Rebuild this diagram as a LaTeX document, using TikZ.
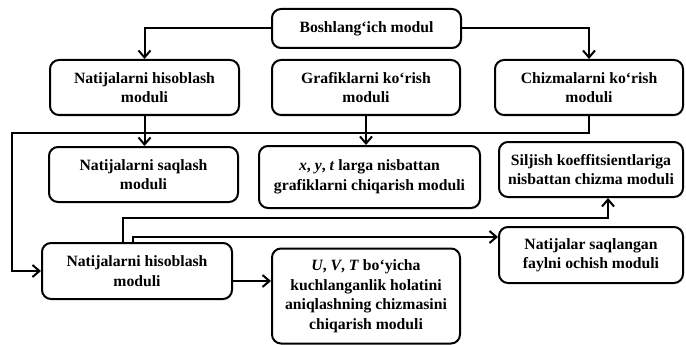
\documentclass[tikz,border=0pt]{standalone}
\usepackage{fontspec}
\setmainfont{Liberation Serif}
\usetikzlibrary{arrows.meta}
\tikzset{
  modbox/.style={draw, line width=2pt, rounded corners=9pt, fill=white, align=center,
    inner sep=2pt, font=\fontsize{15.7}{19.5}\selectfont\bfseries, text=black},
  link/.style={line width=2pt},
  arr/.style={link, -{Straight Barb[length=7pt,width=12pt,line width=2pt]}}
}
\begin{document}
\begin{tikzpicture}[x=1pt,y=-1pt]
\useasboundingbox (0,0) rectangle (686,345);
% row 0
\node[modbox, minimum width=189pt, minimum height=39pt] (boshl) at (366.5,28.5) {Boshlang‘ich modul};
% row 1
\node[modbox, minimum width=189pt, minimum height=55pt] (nhis1) at (144.5,87.5) {Natijalarni hisoblash\\moduli};
\node[modbox, minimum width=188pt, minimum height=55pt] (graf) at (366,87.5) {Grafiklarni ko‘rish\\moduli};
\node[modbox, minimum width=188pt, minimum height=55pt] (chiz) at (589,87.5) {Chizmalarni ko‘rish\\moduli};
% row 2
\node[modbox, minimum width=189pt, minimum height=55pt] (nsaq) at (143.5,174.5) {Natijalarni saqlash\\moduli};
\node[modbox, minimum width=221pt, minimum height=62pt] (xyt) at (369.5,177) {\textit{x}, \textit{y}, \textit{t} larga nisbattan\\grafiklarni chiqarish moduli};
\node[modbox, minimum width=184pt, minimum height=55pt] (silj) at (591,169.5) {Siljish koeffitsientlariga\\nisbattan chizma moduli};
% row 3
\node[modbox, minimum width=190pt, minimum height=56pt] (nhis2) at (137,271) {Natijalarni hisoblash\\moduli};
\node[modbox, minimum width=184pt, minimum height=56pt] (nsql) at (591,255) {Natijalar saqlangan\\faylni ochish moduli};
\node[modbox, minimum width=188pt, minimum height=95pt] (uvt) at (366,296) {\textit{U}, \textit{V}, \textit{T} bo‘yicha\\kuchlanganlik holatini\\aniqlashning chizmasini\\chiqarish moduli};
% helper coordinates
\coordinate (c1) at (12,133);
\coordinate (s1) at (608,218);
\coordinate (s2) at (133,237);
\coordinate (s0) at (123,218);
% connectors
\draw[arr] (boshl.west) -| (nhis1.north);
\draw[arr] (boshl.east) -| (chiz.north);
\draw[arr] (nhis1.south) -- (nsaq.north -| nhis1.south);
\draw[arr] (graf.south) -- (xyt.north -| graf.south);
\draw[arr] (chiz.south) |- (c1) |- (nhis2.west);
\draw[arr] (nhis2.north -| s0) -- (s0) -- (s1) -- (silj.south -| s1);
\draw[arr] (nhis2.north -| s2) -- (s2) -- (s2 -| nsql.west);
\draw[arr] ([yshift=-10pt]nhis2.east) -- ([yshift=-10pt]nhis2.east -| uvt.west);
\end{tikzpicture}
\end{document}
